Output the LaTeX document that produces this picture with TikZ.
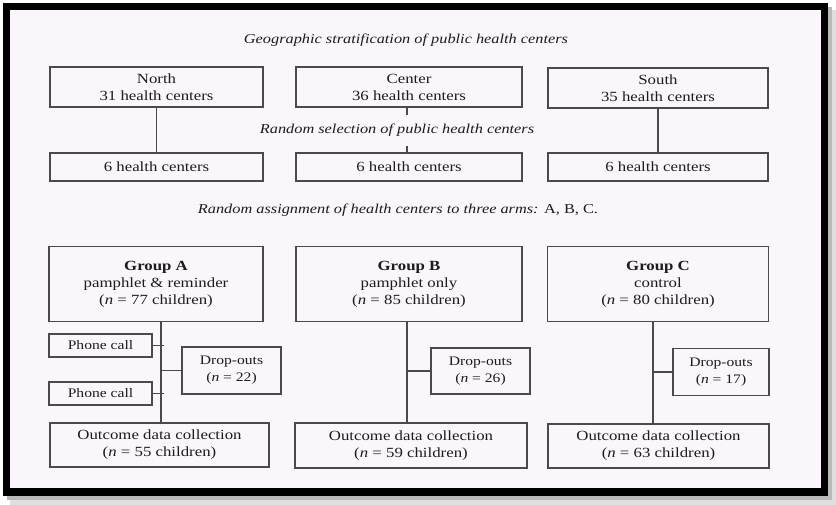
\documentclass[tikz,border=0pt]{standalone}
\usepackage{fontspec}
\setmainfont[FakeStretch=1.2]{Liberation Serif}
\usepackage{xcolor}
\usetikzlibrary{positioning}
\definecolor{paper}{HTML}{FBF6FB}
\definecolor{ink}{HTML}{1C1C1C}
\definecolor{rule}{HTML}{4A4A4A}

\begin{document}
\begin{tikzpicture}[
    x=1pt, y=-1pt,
    box/.style={rectangle, draw=rule, line width=1.1pt, text=ink, align=center, inner sep=0pt, font=\fontsize{14}{17}\selectfont},
    small/.style={box, font=\fontsize{13}{17}\selectfont},
    head/.style={text=ink, inner sep=0pt, font=\fontsize{13.6}{16}\selectfont},
    link/.style={draw=rule, line width=1.1pt}
]
% scanned frame with shadow
\useasboundingbox (0,0) rectangle (836,505);
\fill[gray!25] (10,10) rectangle (836,505);
\fill[gray!55] (7,7) rectangle (832,500);
\fill[black] (3,3) rectangle (828,496);
\fill[paper] (10,10) rectangle (821,488);

% headings
\node (geohead) [head] at (406,40) {\textit{Geographic stratification of public health centers}};
\node (selhead) [head] at (397,130) {\textit{Random selection of public health centers}};
\node (assignhead) [head] at (398,210) {\textit{Random assignment of health centers to three arms:} A, B, C.};

% regions
\node (north) [box, minimum width=213pt, minimum height=40pt] at (156.5,87) {North\\31 health centers};
\node (center) [box, minimum width=226pt, minimum height=40pt] at (409,87) {Center\\36 health centers};
\node (south) [box, minimum width=220pt, minimum height=40pt] at (658,88) {South\\35 health centers};

\node (north6) [box, minimum width=213pt, minimum height=28pt] at (156.5,167) {6 health centers};
\node (center6) [box, minimum width=226pt, minimum height=28pt] at (409,167) {6 health centers};
\node (south6) [box, minimum width=220pt, minimum height=28pt] at (658,167) {6 health centers};

% arms
\node (grpA) [box, minimum width=214pt, minimum height=75pt] at (156,284) {\textbf{Group A}\\pamphlet \& reminder\\(\textit{n} = 77 children)};
\node (grpB) [box, minimum width=226pt, minimum height=75pt] at (409,284) {\textbf{Group B}\\pamphlet only\\(\textit{n} = 85 children)};
\node (grpC) [box, minimum width=221pt, minimum height=75pt] at (658,284) {\textbf{Group C}\\control\\(\textit{n} = 80 children)};

\node (phone1) [small, minimum width=103pt, minimum height=23pt] at (100.5,345.5) {Phone call};
\node (phone2) [small, minimum width=103pt, minimum height=23pt] at (100.5,393.5) {Phone call};

\node (dropA) [small, minimum width=99pt, minimum height=47pt] at (231.5,370.5) {Drop-outs\\(\textit{n} = 22)};
\node (dropB) [small, minimum width=99pt, minimum height=46pt] at (480.5,371) {Drop-outs\\(\textit{n} = 26)};
\node (dropC) [small, minimum width=96pt, minimum height=47pt] at (721,372) {Drop-outs\\(\textit{n} = 17)};

\node (outA) [box, minimum width=219pt, minimum height=44pt] at (159.5,445) {Outcome data collection\\(\textit{n} = 55 children)};
\node (outB) [box, minimum width=232pt, minimum height=45pt] at (411,445.5) {Outcome data collection\\(\textit{n} = 59 children)};
\node (outC) [box, minimum width=221pt, minimum height=44pt] at (658.5,446) {Outcome data collection\\(\textit{n} = 63 children)};

% spines of the three arms
\coordinate (spineA) at (161,0);
\coordinate (spineB) at (407,0);
\coordinate (spineC) at (653,0);

\draw [link] (north) -- (north6);
\draw [link] (south) -- (south6);
\draw [link] (center.south -| spineB) -- ++(0,7);
\draw [link] (center6.north -| spineB) -- ++(0,-6);

\draw [link] (spineA |- grpA.south) -- (spineA |- outA.north);
\draw [link] (spineB |- grpB.south) -- (spineB |- outB.north);
\draw [link] (spineC |- grpC.south) -- (spineC |- outC.north);

\draw [link] (phone1.east) -- ([xshift=3pt]spineA |- phone1.east);
\draw [link] (phone2.east) -- ([xshift=3pt]spineA |- phone2.east);
\draw [link] (dropA.west) -- (spineA |- dropA.west);
\draw [link] (dropB.west) -- (spineB |- dropB.west);
\draw [link] (dropC.west) -- (spineC |- dropC.west);

\end{tikzpicture}
\end{document}
